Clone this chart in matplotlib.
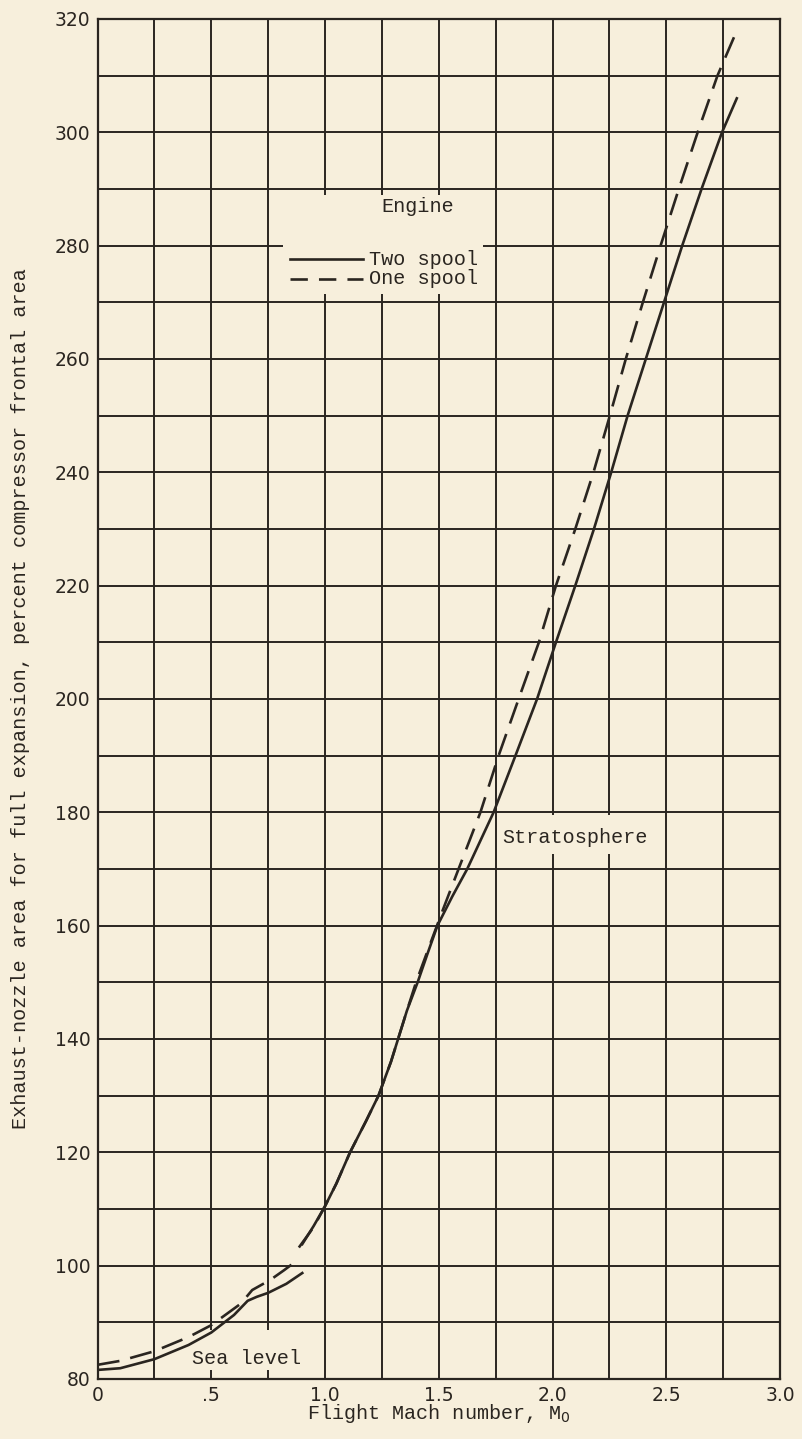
import numpy as np
import matplotlib
matplotlib.use("Agg")
import matplotlib.pyplot as plt
from matplotlib.patches import Rectangle
from matplotlib.ticker import MultipleLocator, FixedFormatter, FixedLocator

# Exhaust-nozzle area for full expansion vs flight Mach number
two_sea_mach = [0.0, 0.10, 0.25, 0.40, 0.50, 0.60, 0.66, 0.70, 0.75, 0.83, 0.90]
two_sea_area = [81.6, 81.9, 83.5, 86.0, 88.2, 91.3, 93.8, 94.5, 95.2, 96.8, 98.7]

one_sea_mach = [0.0, 0.10, 0.25, 0.40, 0.50, 0.63, 0.68, 0.76, 0.82, 0.88]
one_sea_area = [82.5, 83.2, 84.9, 87.4, 89.5, 93.3, 95.7, 97.5, 99.2, 101.0]

two_strat_mach = [0.90, 0.95, 1.00, 1.05, 1.11, 1.18, 1.235, 1.29, 1.36, 1.407, 1.45,
                  1.494, 1.56, 1.625, 1.741, 1.837, 1.932, 2.015, 2.10, 2.182, 2.258,
                  2.33, 2.41, 2.49, 2.57, 2.655, 2.745, 2.81]
two_strat_area = [103.8, 107.0, 110.5, 114.5, 120, 125.5, 130, 136, 145, 150, 155,
                  160, 165.2, 170, 180, 190, 200, 210, 220, 230, 240,
                  250, 260, 270, 280, 290, 300, 306]

one_strat_mach = [0.885, 0.95, 1.00, 1.05, 1.11, 1.18, 1.235, 1.29, 1.36, 1.40, 1.455,
                  1.52, 1.587, 1.683, 1.763, 1.851, 1.94, 2.015, 2.10, 2.18, 2.252,
                  2.322, 2.397, 2.475, 2.555, 2.638, 2.725, 2.80]
one_strat_area = [103.2, 106.8, 110.5, 114.5, 120, 125.5, 130, 136, 145, 150, 156,
                  163, 170, 180, 190, 200, 210, 220, 230, 240, 250,
                  260, 270, 280, 290, 300, 310, 317]

x_ticks = [0, 0.5, 1.0, 1.5, 2.0, 2.5, 3.0]
x_labels = ["0", ".5", "1.0", "1.5", "2.0", "2.5", "3.0"]
y_ticks = list(range(80, 321, 20))

paper = "#f7efdc"
ink = "#2a2520"
mono = "Liberation Mono"

plt.rcParams["lines.scale_dashes"] = False
plt.rcParams["lines.solid_joinstyle"] = "round"

fig = plt.figure(figsize=(8.02, 14.39), dpi=100, facecolor=paper)
ax = fig.add_axes([0.1216, 0.0417, 0.8510, 0.9451])
ax.set_facecolor(paper)

ax.set_xlim(0, 3.0)
ax.set_ylim(80, 320)
ax.xaxis.set_major_locator(FixedLocator(x_ticks))
ax.xaxis.set_major_formatter(FixedFormatter(x_labels))
ax.xaxis.set_minor_locator(MultipleLocator(0.25))
ax.yaxis.set_major_locator(FixedLocator(y_ticks))
ax.yaxis.set_minor_locator(MultipleLocator(10))
ax.tick_params(which="both", length=0, colors=ink, labelsize=13.5)
ax.tick_params(axis="x", pad=5)
ax.tick_params(axis="y", pad=5)

ax.set_axisbelow(True)
ax.grid(which="both", color=ink, linewidth=1.4)
for sp in ax.spines.values():
    sp.set_color(ink)
    sp.set_linewidth(1.6)

# blank patches behind the annotations (grid stubs left showing)
for (x0, y0, w, h) in [(0.816, 271.5, 0.880, 17.5),
                       (1.76, 172.7, 0.69, 6.8),
                       (0.40, 81.6, 0.52, 7.0)]:
    ax.add_patch(Rectangle((x0, y0), w, h, facecolor=paper, edgecolor="none", zorder=1))

dash = (16, 8)
ax.plot(two_sea_mach, two_sea_area, color=ink, lw=1.9, zorder=3)
ax.plot(two_strat_mach, two_strat_area, color=ink, lw=1.9, zorder=3)
ax.plot(one_sea_mach, one_sea_area, color=ink, lw=1.9, dashes=dash, zorder=3)
ax.plot(one_strat_mach, one_strat_area, color=ink, lw=1.9, dashes=dash, zorder=3)

# key
ax.text(1.408, 286.9, "Engine", family=mono, fontsize=14.5, color=ink,
        ha="center", va="center", zorder=4)
ax.plot([0.847, 1.166], [277.6, 277.6], color=ink, lw=1.9, zorder=4)
ax.plot([0.847, 1.166], [274.2, 274.2], color=ink, lw=1.9, dashes=(12.5, 8), zorder=4)
ax.text(1.195, 277.6, "Two spool", family=mono, fontsize=14.5, color=ink,
        ha="left", va="center", zorder=4)
ax.text(1.195, 274.2, "One spool", family=mono, fontsize=14.5, color=ink,
        ha="left", va="center", zorder=4)

ax.text(2.10, 175.6, "Stratosphere", family=mono, fontsize=14.5, color=ink,
        ha="center", va="center", zorder=4)
ax.text(0.653, 83.6, "Sea level", family=mono, fontsize=14.5, color=ink,
        ha="center", va="center", zorder=4)

ax.set_xlabel("Flight Mach number, M$_0$", family=mono, fontsize=14.5, color=ink, labelpad=-2)
ax.set_ylabel("Exhaust-nozzle area for full expansion, percent compressor frontal area",
              family=mono, fontsize=14.5, color=ink)
ax.yaxis.set_label_coords(-0.099, 0.5)

fig.savefig("out.png", dpi=100, facecolor=paper)
